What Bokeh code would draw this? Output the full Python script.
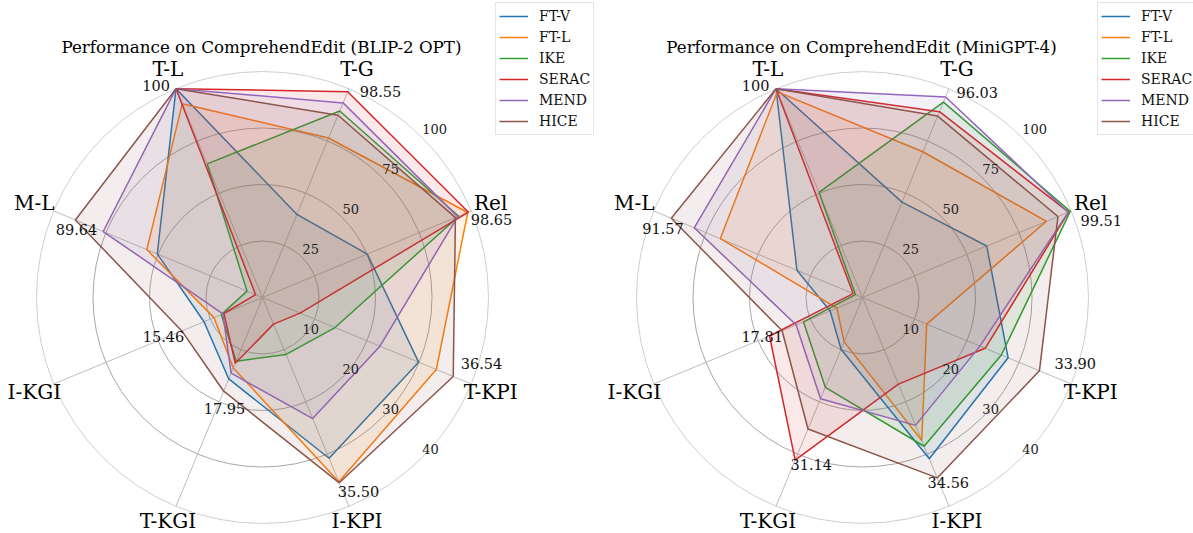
import math
from bokeh.plotting import figure
from bokeh.models import Range1d, Legend, LegendItem
from bokeh.core.properties import value
from bokeh.embed import file_html
from bokeh.resources import INLINE

# ---------------- data ----------------
categories = ["T-L", "T-G", "Rel", "T-KPI", "I-KPI", "T-KGI", "I-KGI", "M-L"]
axis_max = [100, 100, 100, 40, 40, 40, 40, 100]
methods = ["FT-V", "FT-L", "IKE", "SERAC", "MEND", "HICE"]
ticks_a = [25, 50, 75, 100]
ticks_b = [10, 20, 30, 40]
titles = ["Performance on ComprehendEdit (BLIP-2 OPT)",
          "Performance on ComprehendEdit (MiniGPT-4)"]

blip_ftv = [100, 39.8, 50.2, 29.9, 30.8, 15.6, 11.2, 50.4]
blip_ftl = [92.8, 76.4, 98.3, 33.3, 35.3, 13.5, 9.3, 55.4]
blip_ike = [64.0, 89.3, 94.0, 13.9, 10.9, 12.2, 7.9, 7.4]
blip_serac = [100, 98.55, 98.65, 7.2, 5.1, 12.6, 7.4, 3.3]
blip_mend = [100, 93.2, 93.5, 22.5, 23.2, 14.5, 7.6, 76.3]
blip_hice = [100, 87.3, 92.4, 36.54, 35.50, 17.95, 15.46, 89.64]

mini_ftv = [100, 45.7, 59.5, 27.9, 30.9, 9.9, 6.2, 31.4]
mini_ftl = [98.5, 69.8, 88.1, 12.3, 27.4, 8.5, 4.9, 68.1]
mini_ike = [50.3, 93.6, 99.51, 26.6, 28.5, 17.2, 11.3, 3.4]
mini_serac = [100, 89.0, 98.7, 23.5, 16.6, 31.14, 17.81, 4.5]
mini_mend = [100, 96.03, 98.5, 22.5, 24.5, 19.4, 12.7, 80.6]
mini_hice = [100, 86.9, 93.6, 33.90, 34.56, 25.2, 15.4, 91.57]

charts = [
    [blip_ftv, blip_ftl, blip_ike, blip_serac, blip_mend, blip_hice],
    [mini_ftv, mini_ftl, mini_ike, mini_serac, mini_mend, mini_hice],
]

# ---------------- layout / style ----------------
W, H = 1193, 533
colors = ["#1f77b4", "#ff7f0e", "#2ca02c", "#d62728", "#9467bd", "#8c564b"]
centers = [(262, 297), (862, 297)]
R = 226.0
angles = [112.5, 67.5, 22.5, -22.5, -67.5, -112.5, -157.5, 157.5]
label_r = 247.0
val_offsets = [
    [(-20, -3), (32.8, -0.5), (23, 7.6), (28.3, -13), (19.2, 8.7), (0.8, 17.3), (-18.3, 5.6), (1.2, 9.8)],
    [(-20.5, -3), (31.7, -4.8), (31, 9), (35.8, -7.6), (11.1, 4.3), (16.1, 4.5), (-7.4, 0.2), (-8.3, 10.5)],
]
legend_boxes = [(495, 6), (1097, 6)]   # top-left corner of each legend box (screen px)
SERIF = value("DejaVu Serif")


def pt(c, ang, r):
    a = math.radians(ang)
    return c[0] + r * math.cos(a), c[1] - r * math.sin(a)


p = figure(width=W, height=H, x_range=Range1d(0, W), y_range=Range1d(H, 0),
           output_backend="svg", toolbar_location=None, min_border=0,
           x_axis_type=None, y_axis_type=None, outline_line_color=None)
p.grid.visible = False

for ci, c in enumerate(centers):
    # grid circles
    for k in range(1, 5):
        r = R * k / 4
        col = "#cfcfcf" if k == 4 else "#a8a8a8"
        p.circle(x=[c[0]], y=[c[1]], radius=r, radius_units="screen",
                 fill_color=None, line_color=col, line_width=1)
    # spokes
    xs, ys = [], []
    for a in angles:
        ex, ey = pt(c, a, R)
        xs.append([c[0], ex])
        ys.append([c[1], ey])
    p.multi_line(xs, ys, line_color="#bdbdbd", line_width=1)

    # series
    items = []
    for si, vals in enumerate(charts[ci]):
        px, py = [], []
        for v, m, a in zip(vals, axis_max, angles):
            x, y = pt(c, a, R * v / m)
            px.append(x)
            py.append(y)
        lr = p.line(px + px[:1], py + py[:1], line_color=colors[si], line_width=1.5)
        p.patch(px, py, fill_color=colors[si], fill_alpha=0.1, line_color=None)
        items.append(LegendItem(label=methods[si], renderers=[lr]))

    # axis labels
    lx, ly = [], []
    for a in angles:
        x, y = pt(c, a, label_r)
        lx.append(x)
        ly.append(min(y, H - 13))
    p.text(lx, ly, text=categories, text_font=SERIF, text_font_size="20px",
           text_align="center", text_baseline="middle", text_color="#000000")

    # radial tick labels
    tx, ty, tt = [], [], []
    for k, t in enumerate(ticks_a, start=1):
        r = R * k / 4
        tx.append(c[0] + r * math.cos(math.radians(45)))
        ty.append(c[1] - r * math.sin(math.radians(45)) - 9)
        tt.append(str(t))
    for k, t in enumerate(ticks_b, start=1):
        r = R * k / 4
        tx.append(c[0] + r * math.cos(math.radians(45)))
        ty.append(c[1] + r * math.sin(math.radians(45)) - 8)
        tt.append(str(t))
    p.text(tx, ty, text=tt, text_font=SERIF, text_font_size="13px",
           text_align="left", text_baseline="middle", text_color="#222222")

    # max value annotations
    vx, vy, vt = [], [], []
    for j in range(len(categories)):
        mx = max(s[j] for s in charts[ci])
        x, y = pt(c, angles[j], R * mx / axis_max[j])
        dx, dy = val_offsets[ci][j]
        vx.append(x + dx)
        vy.append(y + dy)
        vt.append("100" if mx == 100 else f"{mx:.2f}")
    p.text(vx, vy, text=vt, text_font=SERIF, text_font_size="14.5px",
           text_align="center", text_baseline="middle", text_color="#111111")

    # title
    p.text([c[0] - 1], [46], text=[titles[ci]], text_font=SERIF, text_font_size="16.7px",
           text_align="center", text_baseline="middle", text_color="#000000")

    bx, by = legend_boxes[ci]
    leg = Legend(items=items, location=(bx, H - by - 129), orientation="vertical",
                 label_text_font="DejaVu Serif", label_text_font_size="14px",
                 label_text_color="#111111",
                 glyph_width=29, glyph_height=20, label_height=20, spacing=1,
                 padding=3, margin=0, label_standoff=11,
                 border_line_color="#cccccc", border_line_width=1,
                 background_fill_color="white", background_fill_alpha=0.85)
    p.add_layout(leg)

open("out.html", "w").write(file_html(p, INLINE))
